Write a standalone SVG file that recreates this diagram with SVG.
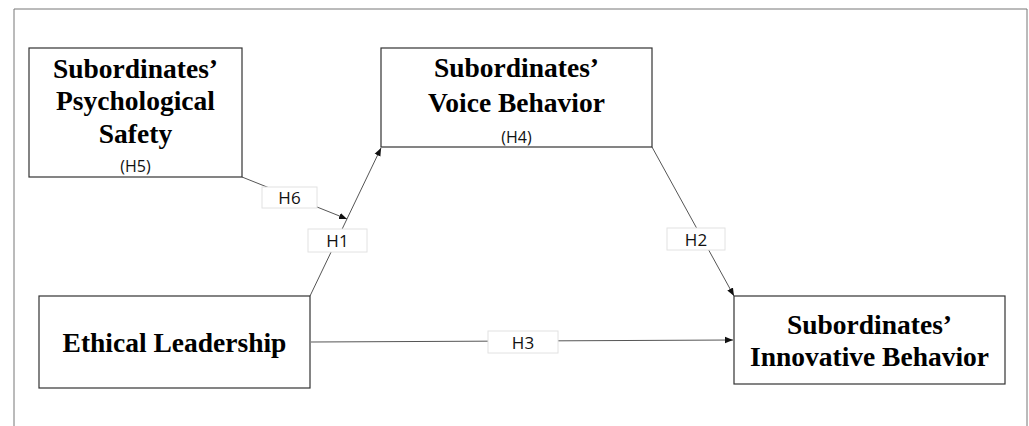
<svg xmlns="http://www.w3.org/2000/svg" width="1029" height="426" viewBox="0 0 1029 426">
<style>
.box{fill:#fff;stroke:#333;stroke-width:1.2}
.t{font-family:"Liberation Serif","Times New Roman",serif;font-weight:bold;font-size:27.5px;fill:#000;text-anchor:middle}
.s{font-family:"Open Sans","Noto Sans",sans-serif;font-size:16px;fill:#111;text-anchor:middle}
.lb{fill:#fff;stroke:#e2e2e2;stroke-width:1}
.ln{stroke:#555;stroke-width:1;fill:none}
.lt{font-family:"Open Sans","Noto Sans",sans-serif;font-size:17px;fill:#111;text-anchor:middle}
</style>
<defs>
<marker id="ah" viewBox="0 0 10 10" refX="10" refY="5" markerWidth="8" markerHeight="8" markerUnits="userSpaceOnUse" orient="auto">
<path d="M0,1 L10,5 L0,9 z" fill="#111"/>
</marker>
</defs>
<rect width="1029" height="426" fill="#fff"/>
<path d="M14,426 L14,9 L1027,9 L1027,426" fill="none" stroke="#777" stroke-width="1"/>
<g id="connectors">
<line class="ln" x1="242" y1="177" x2="347" y2="219" marker-end="url(#ah)"/>
<line class="ln" x1="310" y1="296" x2="381" y2="148" marker-end="url(#ah)"/>
<line class="ln" x1="652" y1="147" x2="734" y2="296" marker-end="url(#ah)"/>
<line class="ln" x1="311" y1="342" x2="733" y2="340" marker-end="url(#ah)"/>
<rect class="lb" x="262" y="187" width="55" height="21"/>
<text class="lt" x="289.5" y="204">H6</text>
<rect class="lb" x="308" y="229" width="59" height="23"/>
<text class="lt" x="337.5" y="247">H1</text>
<rect class="lb" x="667" y="228" width="58" height="22"/>
<text class="lt" x="696" y="245.5">H2</text>
<rect class="lb" x="488" y="331" width="70" height="22"/>
<text class="lt" x="523" y="348.5">H3</text>
</g>
<g id="psych">
<rect class="box" x="29" y="48" width="213" height="129"/>
<text class="t" x="135.5" y="78">Subordinates’</text>
<text class="t" x="135.5" y="110">Psychological</text>
<text class="t" x="135.5" y="143">Safety</text>
<text class="s" x="135.5" y="172">(H5)</text>
</g>
<g id="voice">
<rect class="box" x="381" y="48" width="271" height="99"/>
<text class="t" x="516.5" y="77">Subordinates’</text>
<text class="t" x="516.5" y="112">Voice Behavior</text>
<text class="s" x="516.5" y="143">(H4)</text>
</g>
<g id="ethical">
<rect class="box" x="39" y="296" width="271" height="92"/>
<text class="t" x="174.5" y="352">Ethical Leadership</text>
</g>
<g id="innovative">
<rect class="box" x="734" y="296" width="271" height="88"/>
<text class="t" x="869.5" y="334">Subordinates’</text>
<text class="t" x="869.5" y="366">Innovative Behavior</text>
</g>
</svg>
